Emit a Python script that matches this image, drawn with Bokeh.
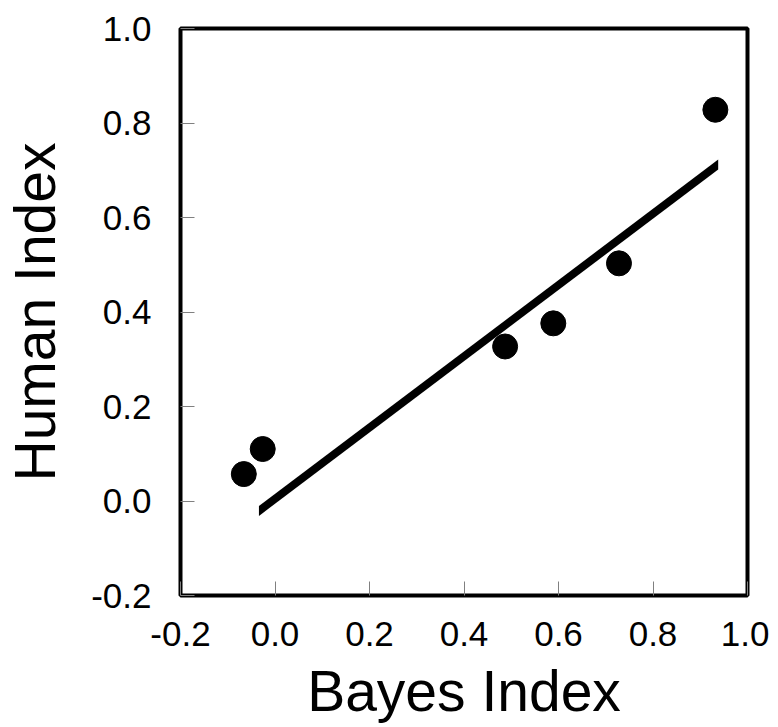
from bokeh.plotting import figure
from bokeh.models import FixedTicker, ColumnDataSource
from bokeh.embed import file_html
from bokeh.resources import INLINE
import numpy as np

# Data
bayes_index = [-0.066, -0.026, 0.487, 0.589, 0.728, 0.932]
human_index = [0.057, 0.110, 0.327, 0.376, 0.503, 0.828]

fit_x = [-0.034, 0.938]
fit_y = [-0.021, 0.712]

tick_values = [-0.2, 0.0, 0.2, 0.4, 0.6, 0.8, 1.0]
tick_labels = ["-0.2", "0.0", "0.2", "0.4", "0.6", "0.8", "1.0"]

FONT = "Liberation Sans"

p = figure(
    frame_width=567, frame_height=567,
    x_range=(-0.2, 1.0), y_range=(-0.2, 1.0),
    output_backend="svg", toolbar_location=None,
    min_border_left=179, min_border_top=28, min_border_right=22, min_border_bottom=122,
    background_fill_color="white", border_fill_color="white",
)
p.grid.visible = False
p.outline_line_color = "black"
p.outline_line_width = 4

for ax in (p.xaxis[0], p.yaxis[0]):
    ax.ticker = FixedTicker(ticks=tick_values)
    ax.major_label_overrides = {v: l for v, l in zip(tick_values, tick_labels)}
    ax.axis_line_color = None
    ax.major_tick_in = 14
    ax.major_tick_out = 0
    ax.major_tick_line_color = "#808080"
    ax.major_tick_line_width = 1
    ax.minor_tick_line_color = None
    ax.major_label_text_font = FONT
    ax.major_label_text_font_size = "35px"
    ax.major_label_text_color = "black"
    ax.axis_label_text_font = FONT
    ax.axis_label_text_font_size = "57px"
    ax.axis_label_text_font_style = "normal"
    ax.axis_label_text_color = "black"

p.xaxis.axis_label = "Bayes Index"
p.yaxis.axis_label = "Human Index"
p.xaxis.major_label_standoff = 26
p.yaxis.major_label_standoff = 29
p.xaxis.axis_label_standoff = 10
p.yaxis.axis_label_standoff = 21

# thick fit line with vertical end cuts
half = 0.0105
fy = np.array(fit_y)
p.varea(x=fit_x, y1=list(fy - half), y2=list(fy + half), fill_color="black")

src = ColumnDataSource(dict(x=bayes_index, y=human_index))
p.scatter("x", "y", source=src, size=25, marker="circle",
          fill_color="black", line_color="black")

open("out.html", "w").write(file_html(p, INLINE))
